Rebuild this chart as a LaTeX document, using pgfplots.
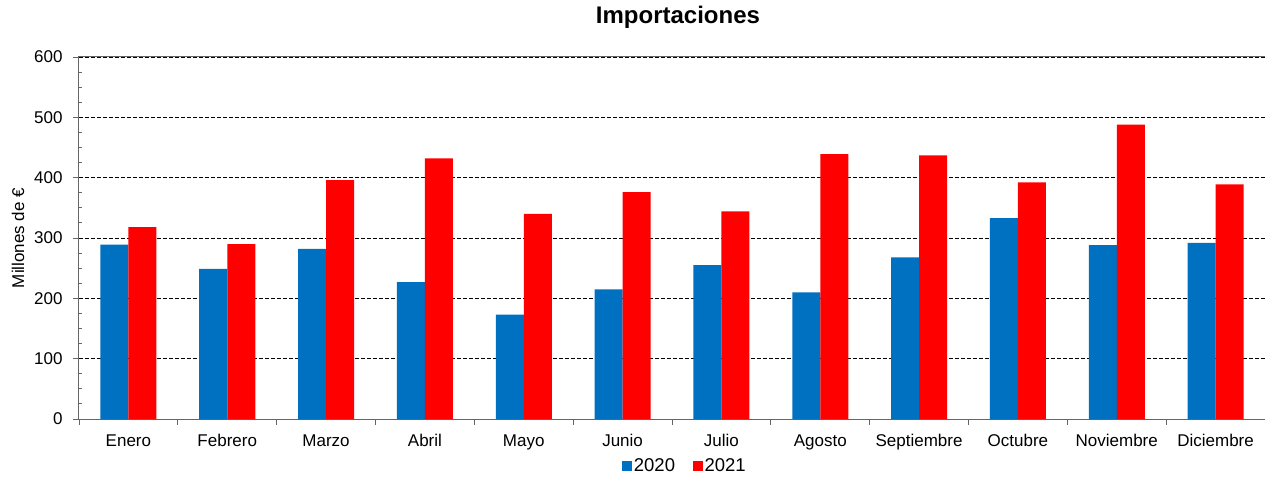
\documentclass[border=0pt]{standalone}
\usepackage{fontspec}
\setmainfont{Liberation Sans}
\usepackage{pgfplots}
\pgfplotsset{compat=1.18}
\definecolor{blue20}{HTML}{0070C0}
\definecolor{red21}{HTML}{FF0000}
\begin{document}
\begin{tikzpicture}
\useasboundingbox (-79bp,-60bp) rectangle (1186bp,419bp);
\begin{axis}[
  scale only axis,
  width=1186bp, height=362bp,
  at={(0,0)}, anchor=south west,
  /pgf/number format/assume math mode=true,
  font=\fontsize{17bp}{20bp}\selectfont,
  xmin=-0.5, xmax=11.5,
  ymin=0, ymax=600,
  ytick={0,100,...,600},
  minor y tick num=3,
  xtick={-0.5,0.5,...,11.5},
  x tick label as interval,
  xticklabels={Enero,Febrero,Marzo,Abril,Mayo,Junio,Julio,Agosto,Septiembre,Octubre,Noviembre,Diciembre},
  xtick pos=bottom, ytick pos=left,
  tick align=outside,
  major tick length=6bp,
  minor tick length=3.5bp,
  tick style={gray!80!black, line width=0.9bp},
  minor tick style={xshift=3.5bp},
  axis line style={gray!80!black, line width=1bp},
  ymajorgrids,
  major grid style={black, line width=0.9bp, dash pattern=on 4bp off 2bp},
  ybar=0pt,
  bar width=28bp,
  title={\bfseries Importaciones},
  title style={font=\fontsize{24bp}{28bp}\selectfont\bfseries, at={(0.505,1)}, anchor=base, yshift=28bp},
  ylabel={Millones de €},
  ylabel style={font=\fontsize{16.5bp}{20bp}\selectfont},
  every axis y label/.style={at={(axis description cs:-0.0514,0.5)}, rotate=90, anchor=center},
  yticklabel style={font=\fontsize{17bp}{20bp}\selectfont, xshift=-7bp},
  xticklabel style={font=\fontsize{17bp}{20bp}\selectfont, yshift=-6bp},
  legend style={at={(0.511,-0.13)}, anchor=center, draw=none, legend columns=2,
    font=\fontsize{18.5bp}{20bp}\selectfont, /tikz/every even column/.append style={column sep=16bp}},
  legend image code/.code={\fill[#1] (0bp,-4.5bp) rectangle (9.5bp,5bp);},
]
\addplot[fill=blue20, draw=none] coordinates {
(0,289) (1,249) (2,282) (3,227) (4,173) (5,215) (6,255) (7,210) (8,268) (9,333) (10,288) (11,292)};
\addplot[fill=red21, draw=none] coordinates {
(0,318) (1,290) (2,396) (3,432) (4,340) (5,376) (6,344) (7,439) (8,437) (9,392) (10,488) (11,389)};
\legend{2020,2021}
\end{axis}
\end{tikzpicture}
\end{document}
